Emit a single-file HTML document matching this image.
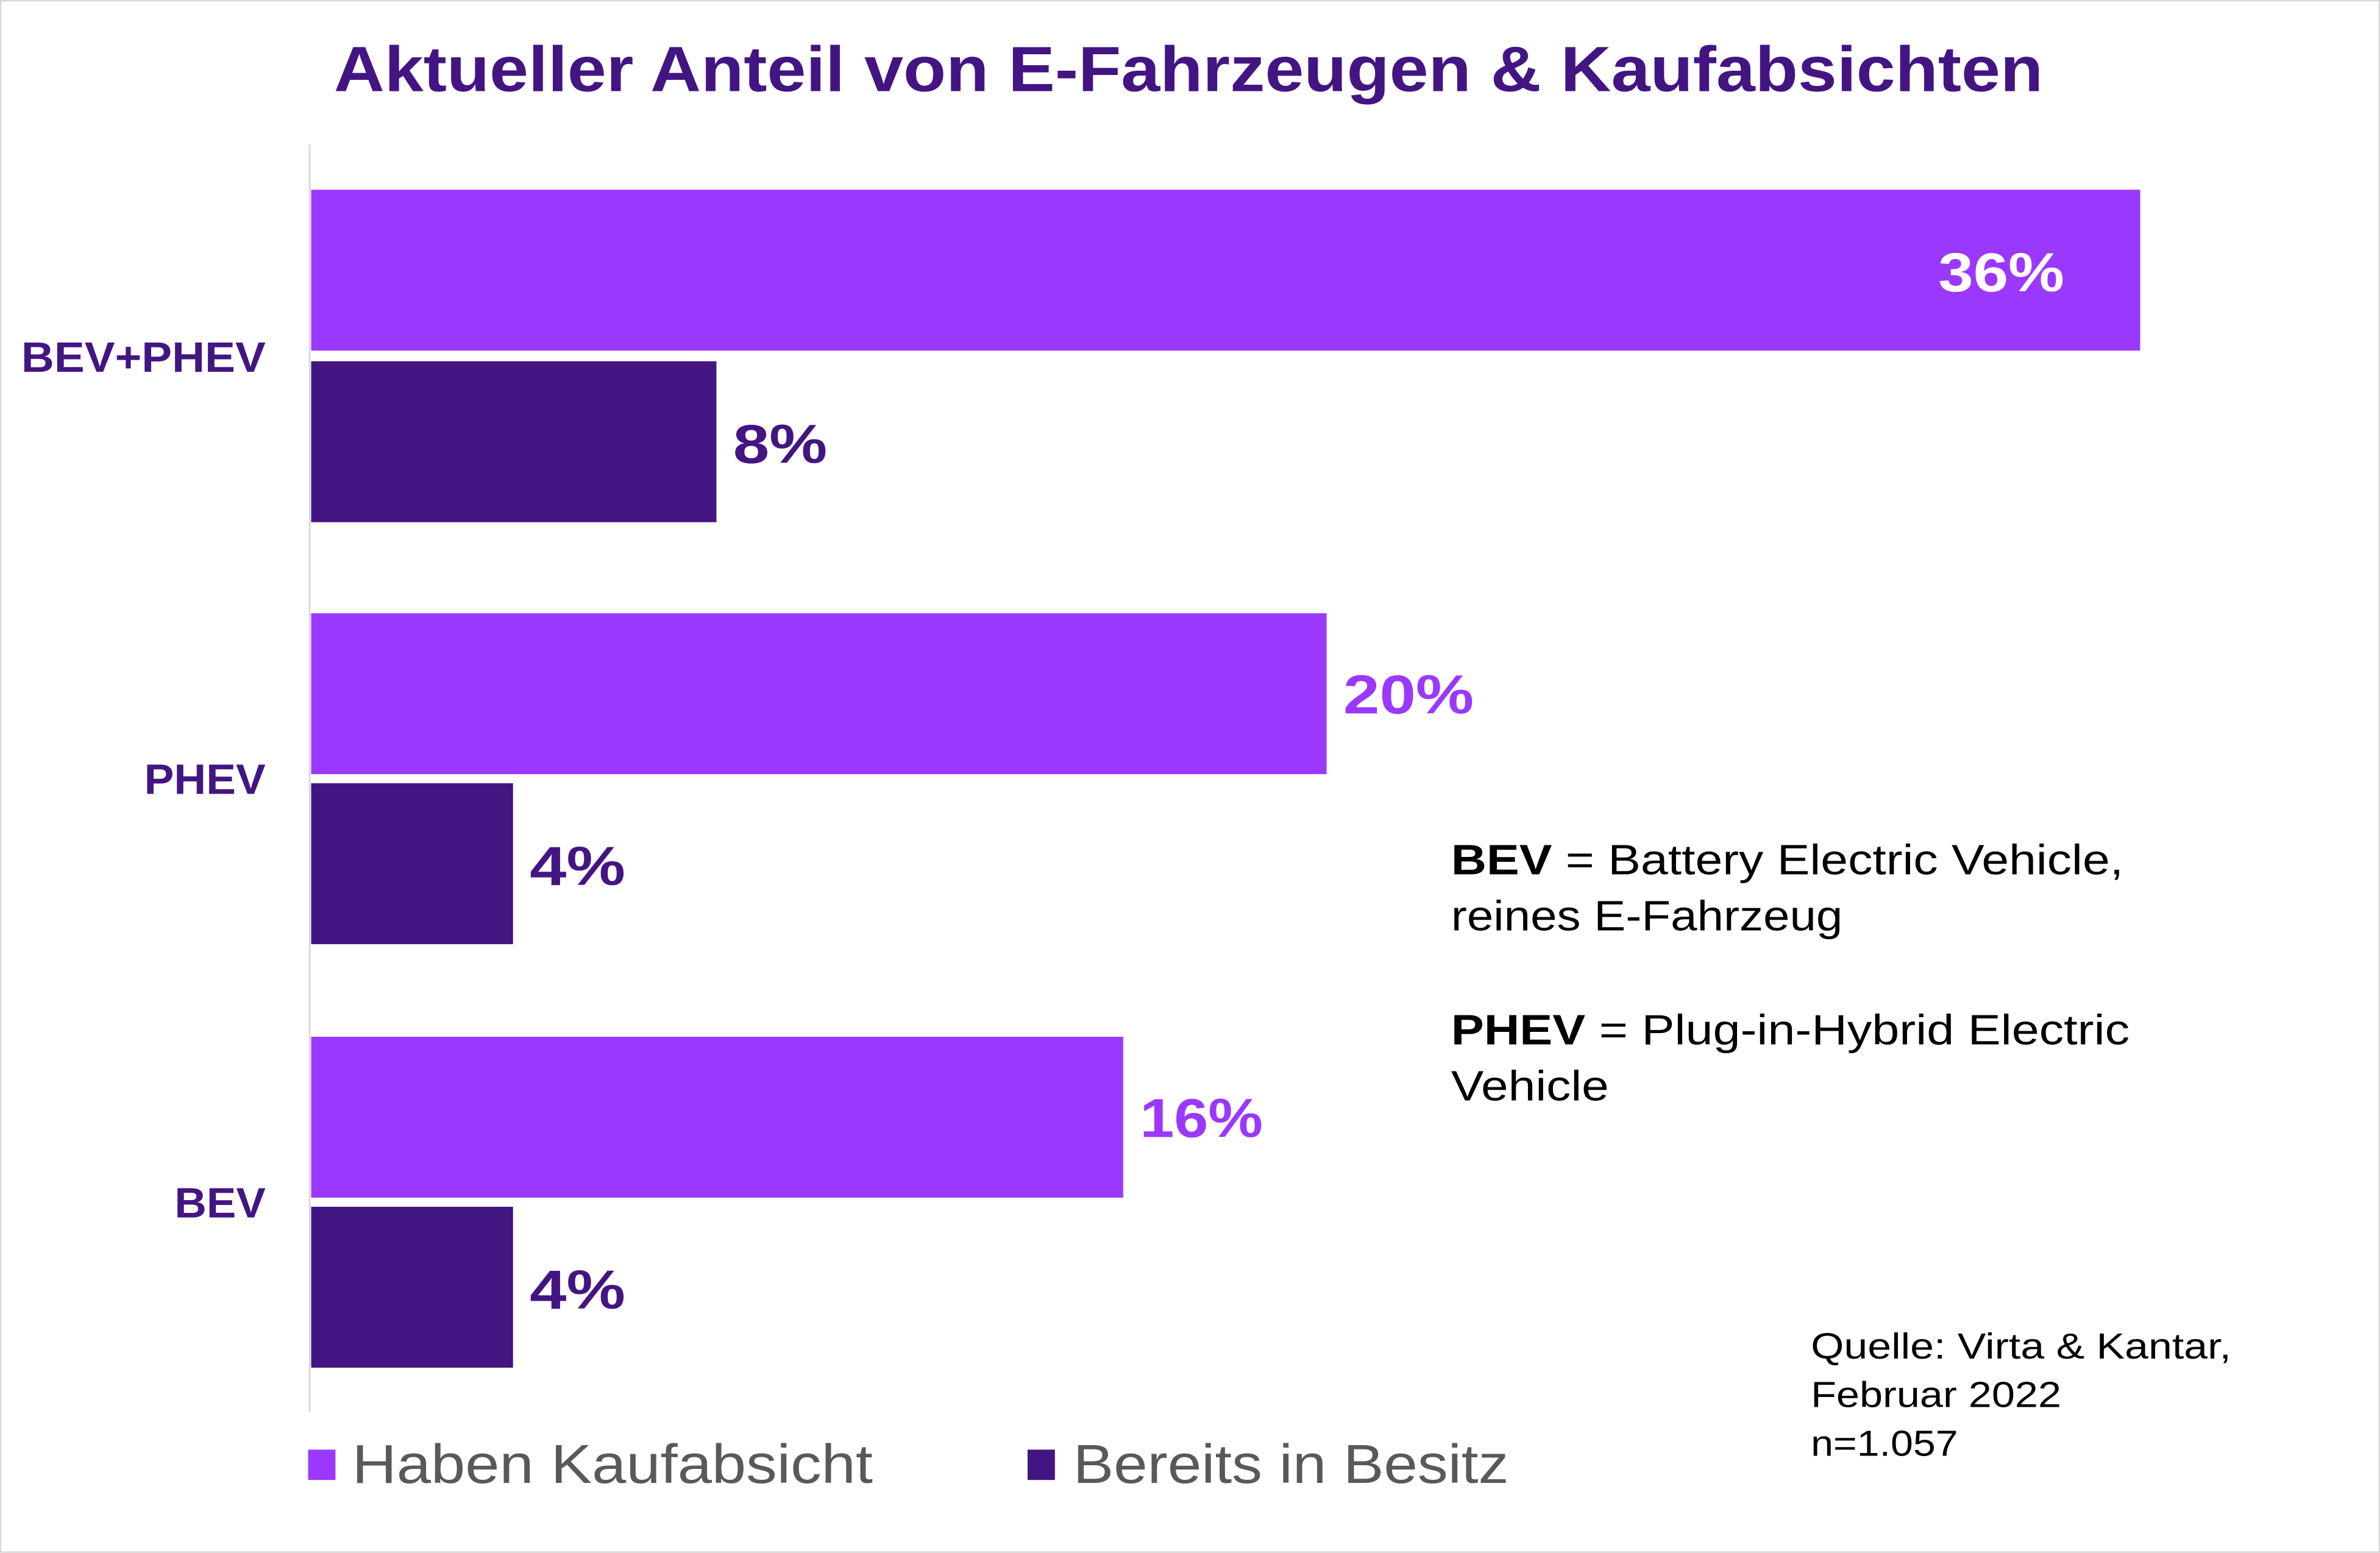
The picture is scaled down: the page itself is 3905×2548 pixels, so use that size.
<!DOCTYPE html>
<html><head><meta charset="utf-8"><style>
html,body{margin:0;padding:0;background:#fff;}
svg{display:block;}
</style></head><body>
<svg width="3905" height="2548" viewBox="0 0 1568 1023.1" preserveAspectRatio="none" xmlns="http://www.w3.org/2000/svg" font-family="Liberation Sans, sans-serif">
<rect x="0.5" y="0.5" width="1567" height="1022" fill="#fff" stroke="#d9d9d9" stroke-width="1"/>
<text x="783" y="60" text-anchor="middle" font-size="42" font-weight="bold" fill="#431582" textLength="1126" lengthAdjust="spacingAndGlyphs">Aktueller Anteil von E-Fahrzeugen &amp; Kaufabsichten</text>
<line x1="204" y1="95" x2="204" y2="930" stroke="#d9d9d9" stroke-width="1.2"/>
<rect x="205" y="125" width="1205" height="106" fill="#9b38fe"/>
<rect x="205" y="238" width="267" height="106" fill="#431582"/>
<rect x="205" y="404" width="669" height="106" fill="#9b38fe"/>
<rect x="205" y="516" width="133" height="106" fill="#431582"/>
<rect x="205" y="683" width="535" height="106" fill="#9b38fe"/>
<rect x="205" y="795" width="133" height="106" fill="#431582"/>
<g font-size="28" font-weight="bold" fill="#431582">
<text x="14" y="245" textLength="161" lengthAdjust="spacingAndGlyphs">BEV+PHEV</text>
<text x="95" y="523" textLength="80" lengthAdjust="spacingAndGlyphs">PHEV</text>
<text x="115" y="802" textLength="60" lengthAdjust="spacingAndGlyphs">BEV</text>
</g>
<g font-size="36" font-weight="bold">
<text x="1277" y="192" fill="#fff" textLength="83" lengthAdjust="spacingAndGlyphs">36%</text>
<text x="483" y="305" fill="#431582" textLength="62" lengthAdjust="spacingAndGlyphs">8%</text>
<text x="885" y="470" fill="#9b38fe" textLength="86" lengthAdjust="spacingAndGlyphs">20%</text>
<text x="349" y="583" fill="#431582" textLength="63" lengthAdjust="spacingAndGlyphs">4%</text>
<text x="751" y="749" fill="#9b38fe" textLength="81" lengthAdjust="spacingAndGlyphs">16%</text>
<text x="349" y="862" fill="#431582" textLength="63" lengthAdjust="spacingAndGlyphs">4%</text>
</g>
<g font-size="28" fill="#000">
<text x="956" y="576" textLength="443" lengthAdjust="spacingAndGlyphs"><tspan font-weight="bold">BEV</tspan> = Battery Electric Vehicle,</text>
<text x="956" y="613" textLength="258" lengthAdjust="spacingAndGlyphs">reines E-Fahrzeug</text>
<text x="956" y="688" textLength="447" lengthAdjust="spacingAndGlyphs"><tspan font-weight="bold">PHEV</tspan> = Plug-in-Hybrid Electric</text>
<text x="956" y="725" textLength="104" lengthAdjust="spacingAndGlyphs">Vehicle</text>
</g>
<g font-size="24" fill="#000">
<text x="1193" y="895" textLength="277" lengthAdjust="spacingAndGlyphs">Quelle: Virta &amp; Kantar,</text>
<text x="1193" y="927" textLength="165" lengthAdjust="spacingAndGlyphs">Februar 2022</text>
<text x="1193" y="959" textLength="97" lengthAdjust="spacingAndGlyphs">n=1.057</text>
</g>
<rect x="203" y="955" width="18" height="20" fill="#9b38fe"/>
<text x="232" y="977" font-size="36" fill="#595959" textLength="343" lengthAdjust="spacingAndGlyphs">Haben Kaufabsicht</text>
<rect x="677" y="955" width="18" height="20" fill="#431582"/>
<text x="707" y="977" font-size="36" fill="#595959" textLength="287" lengthAdjust="spacingAndGlyphs">Bereits in Besitz</text>
</svg>
</body></html>
